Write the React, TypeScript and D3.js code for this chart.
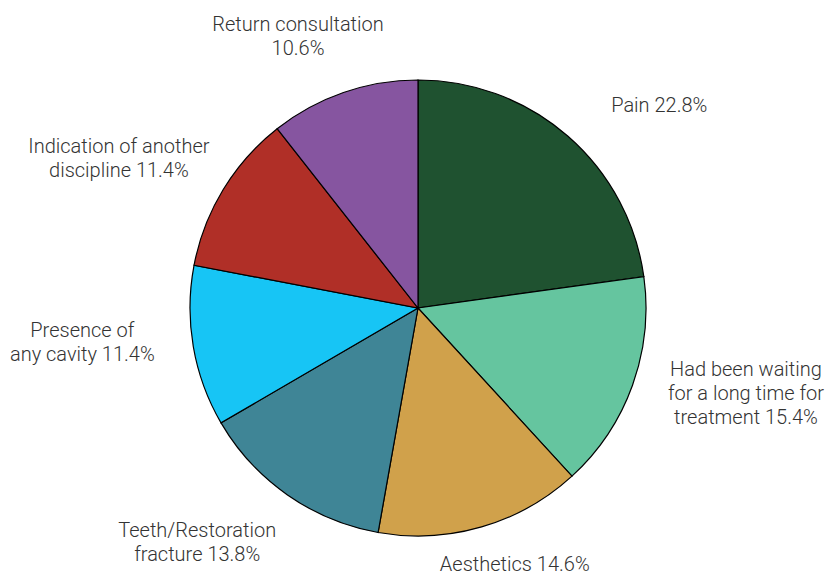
import React, { useEffect, useRef } from "react";
import * as d3 from "d3";

// ---- data ----
const categoryLines: string[][] = [
  ["Pain"],
  ["Had been waiting", "for a long time for", "treatment"],
  ["Aesthetics"],
  ["Teeth/Restoration", "fracture"],
  ["Presence of", "any cavity"],
  ["Indication of another", "discipline"],
  ["Return consultation", ""],
];
const values: number[] = [22.8, 15.4, 14.6, 13.8, 11.4, 11.4, 10.6];
const colors: string[] = ["#1f5230", "#65c59f", "#d0a14b", "#3f8596", "#17c5f5", "#b02f27", "#8655a0"];

// ---- layout ----
const W = 831;
const H = 573;
const CX = 418;
const CY = 308;
const R = 228;
const GAP = 30;
const LINE_H = 24;
const labelNudge: [number, number][] = [
  [30, 4],
  [7, -15],
  [3, -4],
  [-18, -2],
  [-9, -14],
  [12, -1],
  [-6, -4],
];

export default function App() {
  const ref = useRef<SVGSVGElement | null>(null);

  useEffect(() => {
    document.body.style.margin = "0";
    const svg = d3.select(ref.current);
    svg.selectAll("*").remove();
    const pieData = d3.pie<number>().sort(null).value((d) => d)(values);
    const arc = d3.arc<d3.PieArcDatum<number>>().innerRadius(0).outerRadius(R);
    const g = svg.append("g").attr("transform", `translate(${CX},${CY})`);
    g.selectAll("path")
      .data(pieData)
      .join("path")
      .attr("d", arc as any)
      .attr("fill", (_d, i) => colors[i])
      .attr("stroke", "#000")
      .attr("stroke-width", 1.2);

    pieData.forEach((d, i) => {
      const base = categoryLines[i];
      const pct = `${values[i].toFixed(1)}%`;
      const lines = base.slice(0, -1).concat([(base[base.length - 1] + " " + pct).trim()]);
      const n = lines.length;
      const t = g
        .append("text")
        .attr("text-anchor", "middle")
        .attr("font-family", "Roboto, sans-serif")
        .attr("font-weight", 300)
        .attr("font-size", 20)
        .attr("fill", "#333");
      lines.forEach((l, j) => {
        t.append("tspan")
          .attr("x", 0)
          .attr("y", (j - (n - 1) / 2) * LINE_H)
          .attr("dy", "0.35em")
          .text(l);
      });
      const bb = (t.node() as SVGTextElement).getBBox();
      const hw = bb.width / 2;
      const hh = (n * LINE_H) / 2;
      const a = (d.startAngle + d.endAngle) / 2;
      const vx = Math.sin(a);
      const vy = -Math.cos(a);
      const m = 1 / Math.max(Math.abs(vx), Math.abs(vy));
      const x = vx * (R + GAP) + hw * vx * m + labelNudge[i][0];
      const y = vy * (R + GAP) + hh * vy * m + labelNudge[i][1];
      t.attr("transform", `translate(${x},${y})`);
    });
  }, []);

  return <svg ref={ref} width={W} height={H} style={{ display: "block", background: "#fff" }} />;
}
